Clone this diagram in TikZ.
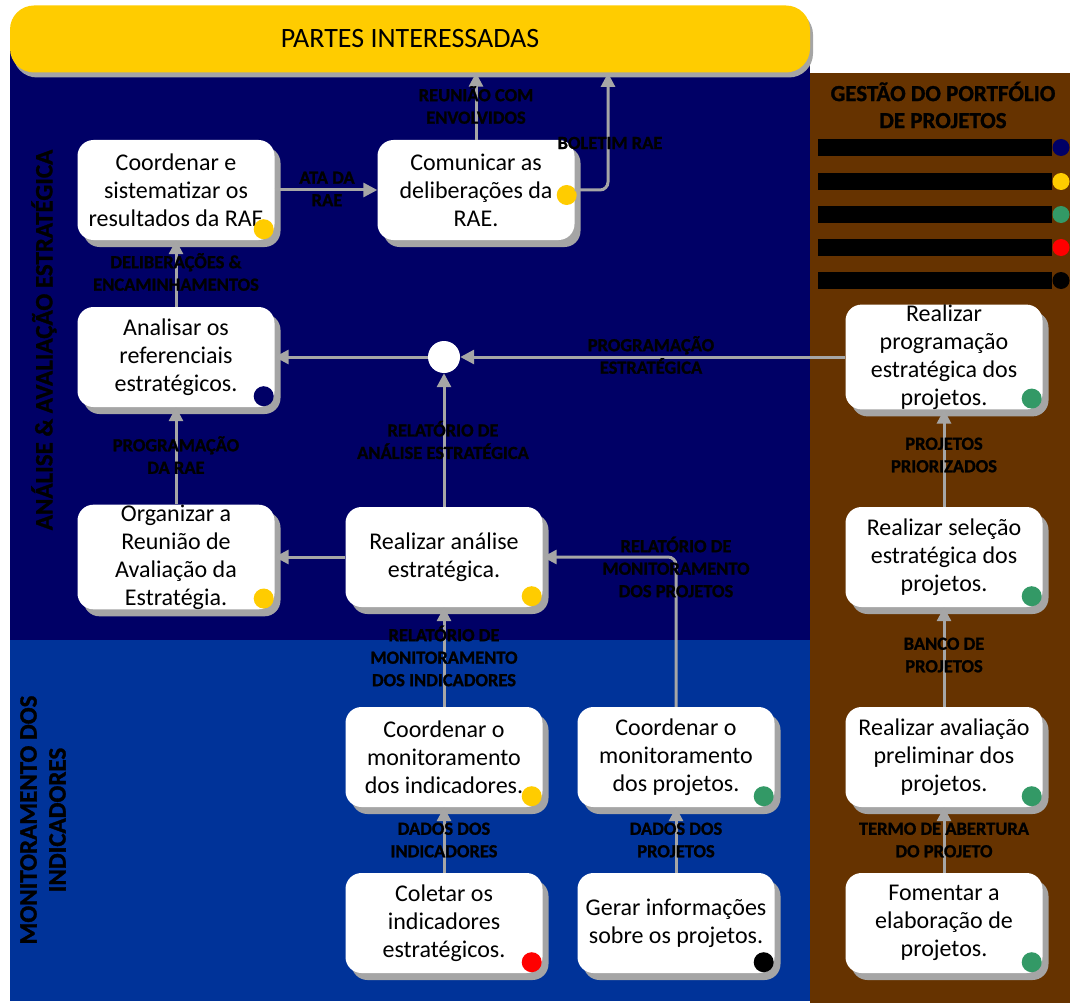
\documentclass[tikz,border=0pt]{standalone}
\usepackage{fontspec}
\setmainfont{Carlito}[BoldFont={Carlito Bold}]
\newfontfamily\heavyfont{Carlito Bold}[FakeBold=1.2]
\usetikzlibrary{arrows.meta,shadows,calc}
\definecolor{navyA}{RGB}{0,0,102}
\definecolor{blueB}{RGB}{0,51,153}
\definecolor{brownC}{RGB}{102,51,0}
\definecolor{yel}{RGB}{255,204,0}
\definecolor{grn}{RGB}{51,153,102}
\definecolor{conn}{RGB}{166,166,166}
\definecolor{shd}{RGB}{165,165,165}
\tikzset{
  box/.style={rounded corners=16pt, fill=white, minimum width=197pt, minimum height=100pt,
    align=center, inner xsep=3pt, inner ysep=0pt,
    font=\fontsize{24}{28}\selectfont,
    drop shadow={shadow xshift=6pt, shadow yshift=-7pt, fill=shd, opacity=1}},
  lbl/.style={font=\fontsize{18.5}{22.5}\selectfont\heavyfont, align=center, text=black, inner sep=0pt},
  arr/.style={draw=conn, line width=3pt, -{Triangle[length=14pt,width=14pt]}},
  dotm/.style={circle, minimum size=20pt, inner sep=0pt},
  barm/.style={fill=black, minimum width=234pt, minimum height=17pt, inner sep=0pt},
  side/.style={rotate=90, font=\fontsize{25}{29}\selectfont\heavyfont, align=center, text=black, inner sep=0pt}
}
\begin{document}
\begin{tikzpicture}[x=1pt,y=-1pt]
\useasboundingbox (0,0) rectangle (1070,1003);
% regions
\fill[navyA] (10,40) rectangle (810,640);
\fill[blueB] (10,640) rectangle (810,1001);
\fill[brownC] (810,73) rectangle (1070,1003);
% banner
\node[fill=yel, rounded corners=24pt, minimum width=800pt, minimum height=67pt, inner sep=0pt,
  font=\fontsize{28}{32}\selectfont,
  drop shadow={shadow xshift=3pt, shadow yshift=-5pt, fill=shd, opacity=1}] (pi) at (410,39) {PARTES INTERESSADAS};
\coordinate (b1) at (608,73);
% side labels
\node[side] (sideA) at (44,340) {ANÁLISE \& AVALIAÇÃO ESTRATÉGICA};
\node[side] (sideB) at (43,820) {MONITORAMENTO DOS\\INDICADORES};
% legend
\node[font=\fontsize{23}{27}\selectfont\heavyfont, align=center, inner sep=0pt] (gh) at (943,105) {GESTÃO DO PORTFÓLIO\\DE PROJETOS};
\node[barm] (bar1) at (935,147.5) {};
\node[barm] (bar2) at (935,181.5) {};
\node[barm] (bar3) at (935,214.5) {};
\node[barm] (bar4) at (935,247.5) {};
\node[barm] (bar5) at (935,280.5) {};
\node[dotm, fill=navyA, minimum size=17pt] (ld1) at (1061,147.5) {};
\node[dotm, fill=yel, minimum size=17pt] (ld2) at (1061,181.5) {};
\node[dotm, fill=grn, minimum size=17pt] (ld3) at (1061,214.5) {};
\node[dotm, fill=red, minimum size=17pt] (ld4) at (1061,247.5) {};
\node[dotm, fill=black, minimum size=17pt] (ld5) at (1061,280.5) {};
% boxes
\node[box] (cs) at (176,190) {Coordenar e\\sistematizar os\\resultados da RAE};
\node[box] (cm) at (476,190) {Comunicar as\\deliberações da\\RAE.};
\node[box] (an) at (176,357) {Analisar os\\referenciais\\estratégicos.};
\node[box] (or) at (176,557) {Organizar a\\Reunião de\\Avaliação da\\Estratégia.};
\node[box] (ra) at (444,557) {Realizar análise\\estratégica.};
\node[box] (ci) at (444,757) {Coordenar o\\monitoramento\\dos indicadores.};
\node[box] (cp) at (676,757) {Coordenar o\\monitoramento\\dos projetos.};
\node[box] (co) at (444,923) {Coletar os\\indicadores\\estratégicos.};
\node[box] (gi) at (676,923) {Gerar informações\\sobre os projetos.};
\node[box] (rp) at (944,357) {Realizar\\programação\\estratégica dos\\projetos.};
\node[box] (rs) at (944,557) {Realizar seleção\\estratégica dos\\projetos.};
\node[box] (rv) at (944,757) {Realizar avaliação\\preliminar dos\\projetos.};
\node[box] (fo) at (944,923) {Fomentar a\\elaboração de\\projetos.};
% status dots
\node[dotm, fill=yel] (d1) at ($(cs.south east)+(-11,-11)$) {};
\node[dotm, fill=yel] (d2) at ($(cm.east)+(-8,5)$) {};
\node[dotm, fill=navyA] (d3) at ($(an.south east)+(-11,-11)$) {};
\node[dotm, fill=yel] (d4) at ($(or.south east)+(-11,-11)$) {};
\node[dotm, fill=yel] (d5) at ($(ra.south east)+(-11,-11)$) {};
\node[dotm, fill=yel] (d6) at ($(ci.south east)+(-11,-11)$) {};
\node[dotm, fill=grn] (d7) at ($(cp.south east)+(-11,-11)$) {};
\node[dotm, fill=red] (d8) at ($(co.south east)+(-11,-11)$) {};
\node[dotm, fill=black] (d9) at ($(gi.south east)+(-11,-11)$) {};
\node[dotm, fill=grn] (d10) at ($(rp.south east)+(-11,-11)$) {};
\node[dotm, fill=grn] (d11) at ($(rs.south east)+(-11,-11)$) {};
\node[dotm, fill=grn] (d12) at ($(rv.south east)+(-11,-11)$) {};
\node[dotm, fill=grn] (d13) at ($(fo.south east)+(-11,-11)$) {};
% junction
\node[circle, fill=white, minimum size=32pt, inner sep=0pt] (j) at (444,357) {};
% connectors
\draw[arr] (cs.east) -- (cm.west);
\draw[arr] (cm.north) -- (cm.north |- pi.south);
\draw[arr, rounded corners=8pt] (cm.east) -| (b1);
\draw[arr] (an.north) -- (cs.south);
\draw[arr] (or.north) -- (an.south);
\draw[arr] (ra.north) -- (j.south);
\draw[arr] (j.west) -- (j.west -| an.east);
\draw[arr] (rp.west |- j) -- (j.east);
\draw[arr] (ra.west) -- (or.east);
\draw[arr, rounded corners=8pt] (cp.north) |- (ra.east);
\draw[arr] (ci.north) -- (ra.south);
\draw[arr] (co.north) -- (ci.south);
\draw[arr] (gi.north) -- (cp.south);
\draw[arr] (fo.north) -- (rv.south);
\draw[arr] (rv.north) -- (rs.south);
\draw[arr] (rs.north) -- (rp.south);
% labels
\node[lbl] (l1) at (327,189) {ATA DA\\RAE};
\node[lbl] (l2) at (476,105) {REUNIÃO COM\\ENVOLVIDOS};
\node[lbl] (l3) at (610,143) {BOLETIM RAE};
\node[lbl] (l4) at (176,272) {DELIBERAÇÕES \&\\ENCAMINHAMENTOS};
\node[lbl] (l5) at (176,455) {PROGRAMAÇÃO\\DA RAE};
\node[lbl] (l6) at (443,440) {RELATÓRIO DE\\ANÁLISE ESTRATÉGICA};
\node[lbl] (l7) at (651,355) {PROGRAMAÇÃO\\ESTRATÉGICA};
\node[lbl] (l8) at (676,567) {RELATÓRIO DE\\MONITORAMENTO\\DOS PROJETOS};
\node[lbl] (l9) at (444,656) {RELATÓRIO DE\\MONITORAMENTO\\DOS INDICADORES};
\node[lbl] (l10) at (444,840) {DADOS DOS\\INDICADORES};
\node[lbl] (l11) at (676,840) {DADOS DOS\\PROJETOS};
\node[lbl] (l12) at (944,840) {TERMO DE ABERTURA\\DO PROJETO};
\node[lbl] (l13) at (944,655) {BANCO DE\\PROJETOS};
\node[lbl] (l14) at (944,455) {PROJETOS\\PRIORIZADOS};
\end{tikzpicture}
\end{document}
